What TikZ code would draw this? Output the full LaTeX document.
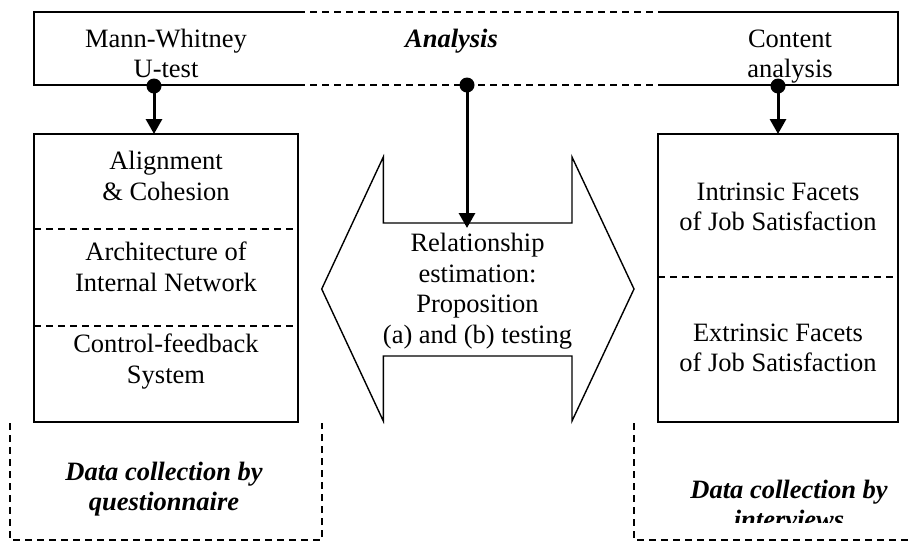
\documentclass[tikz,border=0pt]{standalone}
\usepackage{fontspec}
\setmainfont{Liberation Serif}
\usetikzlibrary{arrows.meta}
\begin{document}
\begin{tikzpicture}[x=1pt,y=-1pt,
  solidline/.style={line width=1.4pt},
  dashline/.style={line width=1.3pt, dash pattern=on 7pt off 5pt},
  lbl/.style={align=center, inner sep=0pt, font=\fontsize{26.5}{30.5}\selectfont},
  blbl/.style={lbl, font=\fontsize{26.5}{30}\selectfont\bfseries\itshape},
  arr/.style={line width=3pt, -{Triangle[length=15pt,width=16pt]}},
  dot/.style={fill=black}]
\useasboundingbox (0,0) rectangle (912,542);
% top analysis box
\draw[solidline] (298,12) -- (34,12) -- (34,85) -- (298,85);
\draw[dashline] (298,12) -- (658,12) (298,85) -- (658,85);
\draw[solidline] (658,12) -- (898,12) -- (898,85) -- (658,85);
\node[lbl] (mw) at (166,53.5) {Mann-Whitney\\U-test};
\node[blbl] (ana) at (451.5,41) {Analysis};
\node[lbl] (ca) at (790,56.4) {Content\\analysis};
% left box
\node[draw, solidline, minimum width=264pt, minimum height=288pt, inner sep=0pt] (lbox) at (166,278) {};
\draw[dashline] (34,229) -- (298,229) (34,326) -- (298,326);
\node[lbl] (al) at (166,176) {Alignment\\\& Cohesion};
\node[lbl] (ar) at (166,267) {Architecture of\\Internal Network};
\node[lbl] (cf) at (166,361.4) {Control-feedback\\System};
% right box
\node[draw, solidline, minimum width=240pt, minimum height=288pt, inner sep=0pt] (rbox) at (778,278) {};
\draw[dashline] (658,277) -- (898,277);
\node[lbl] (in) at (778,207) {Intrinsic Facets\\of Job Satisfaction};
\node[lbl] (ex) at (778,348) {Extrinsic Facets\\of Job Satisfaction};
% double arrow
\draw[solidline, line join=miter] (321.7,289) -- (383.3,157) -- (383.3,223) -- (572,223) -- (572,157)
  -- (634,289) -- (572,421) -- (572,356) -- (383.3,356) -- (383.3,421) -- cycle;
\node[lbl] (rel) at (477.5,291) {Relationship\\estimation:\\Proposition\\(a) and (b) testing};
% dots and arrows
\coordinate (dotL) at (154,86);
\coordinate (dotM) at (467,85);
\coordinate (dotR) at (778,86);
\coordinate (lboxtop) at (154,134);
\coordinate (rboxtop) at (778,134);
\coordinate (notch) at (467,228);
\draw[arr] (dotL) -- (lboxtop);
\draw[arr] (dotM) -- (notch);
\draw[arr] (dotR) -- (rboxtop);
\fill[dot] (dotL) circle (7.5pt);
\fill[dot] (dotM) circle (7.5pt);
\fill[dot] (dotR) circle (7.5pt);
% bottom dashed boxes
\draw[dashline] (10,423) -- (10,540) -- (322,540) -- (322,423);
\node[blbl] (dq) at (164,489) {Data collection by\\questionnaire};
\draw[dashline] (634,423) -- (634,540) -- (912,540);
\begin{scope}
\clip (634,400) rectangle (912,522);
\node[blbl] (di) at (789,504) {Data collection by\\interviews};
\end{scope}
\end{tikzpicture}
\end{document}
